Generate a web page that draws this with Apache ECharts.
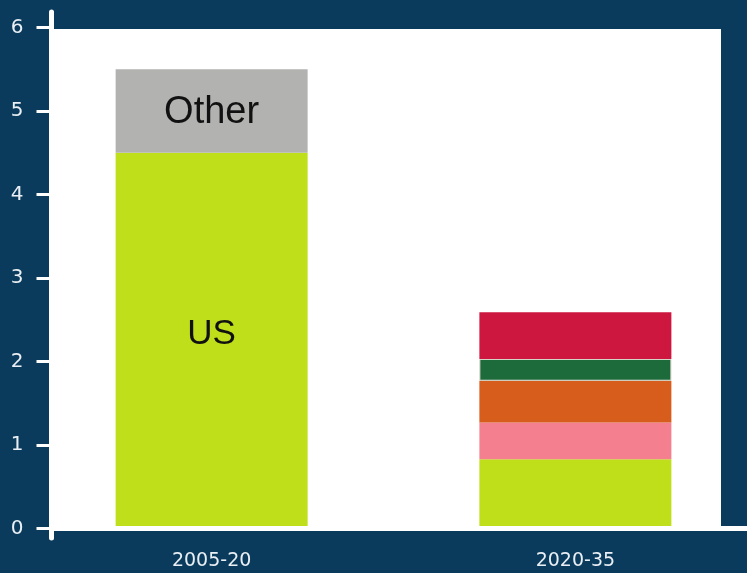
<!DOCTYPE html>
<html>
<head>
<meta charset="utf-8">
<script src="https://cdn.jsdelivr.net/npm/echarts@6/dist/echarts.min.js"></script>
<style>
  html, body { margin: 0; padding: 0; background: #0a3a5c; }
  #main { width: 747px; height: 573px; }
</style>
</head>
<body>
<div id="main"></div>
<script>
// data
const categories = ['2005-20', '2020-35']
const yTicks = [0, 1, 2, 3, 4, 5, 6]
const usValues = [4.5, 0.83]
const otherValues = [1.0, null]
const pinkValues = [null, 0.44]
const orangeValues = [null, 0.5]
const greenValues = [null, 0.26]
const redValues = [null, 0.56]

const labelColor = '#e9eff4'
const chart = echarts.init(document.getElementById('main'))

chart.setOption({
  backgroundColor: '#0a3a5c',
  animation: false,
  grid: [
    // axis lines
    { left: 51.5, top: 12, width: 695.5, height: 526, outerBoundsMode: 'none' },
    // bars
    { left: 29.75, top: 27.5, width: 727.5, height: 501, outerBoundsMode: 'none' },
    // white plot area
    { left: 54, top: 29, width: 667, height: 497, show: true, backgroundColor: '#ffffff', borderWidth: 0, outerBoundsMode: 'none' }
  ],
  xAxis: [
    {
      gridIndex: 0,
      type: 'value',
      min: 0,
      max: 1,
      z: 5,
      axisLine: { show: true, onZero: true, lineStyle: { color: '#ffffff', width: 5 } },
      axisTick: { show: false },
      axisLabel: { show: false },
      splitLine: { show: false }
    },
    {
      gridIndex: 1,
      type: 'category',
      data: categories,
      axisLine: { show: false },
      axisTick: { show: false },
      axisLabel: {
        margin: 23,
        color: labelColor,
        fontSize: 19,
        fontFamily: 'DejaVu Sans'
      }
    },
    {
      gridIndex: 2,
      type: 'value',
      show: false,
      min: 0,
      max: 1
    }
  ],
  yAxis: [
    {
      gridIndex: 0,
      type: 'value',
      min: -0.1138,
      max: 6.1856,
      z: 5,
      axisLine: { show: true, onZero: true, lineStyle: { color: '#ffffff', width: 5 } },
      axisTick: {
        show: true,
        length: 15,
        customValues: yTicks,
        lineStyle: { color: '#ffffff', width: 3 }
      },
      axisLabel: {
        customValues: yTicks,
        margin: 28,
        color: labelColor,
        fontSize: 20,
        fontFamily: 'DejaVu Sans'
      },
      splitLine: { show: false }
    },
    {
      gridIndex: 1,
      type: 'value',
      show: false,
      min: 0,
      max: 6
    },
    {
      gridIndex: 2,
      type: 'value',
      show: false,
      min: 0,
      max: 1
    }
  ],
  series: [
    {
      name: 'US',
      type: 'bar',
      stack: 'total',
      xAxisIndex: 1,
      yAxisIndex: 1,
      barWidth: 192,
      itemStyle: { color: '#bedf1a' },
      data: usValues.map((v, i) => ({
        value: v,
        label: {
          show: i === 0,
          position: 'inside',
          offset: [0, -6],
          formatter: 'US',
          color: '#111111',
          fontSize: 35,
          fontFamily: 'Liberation Sans'
        }
      }))
    },
    {
      name: 'Other',
      type: 'bar',
      stack: 'total',
      xAxisIndex: 1,
      yAxisIndex: 1,
      barWidth: 192,
      itemStyle: { color: '#b2b3b1' },
      label: {
        show: true,
        position: 'inside',
        offset: [0, 2],
        formatter: 'Other',
        color: '#111111',
        fontSize: 38,
        fontFamily: 'Liberation Sans'
      },
      data: otherValues
    },
    {
      name: 'Pink',
      type: 'bar',
      stack: 'total',
      xAxisIndex: 1,
      yAxisIndex: 1,
      barWidth: 192,
      itemStyle: { color: '#f4808f' },
      data: pinkValues
    },
    {
      name: 'Orange',
      type: 'bar',
      stack: 'total',
      xAxisIndex: 1,
      yAxisIndex: 1,
      barWidth: 192,
      itemStyle: { color: '#d65d1c' },
      data: orangeValues
    },
    {
      name: 'Green',
      type: 'bar',
      stack: 'total',
      xAxisIndex: 1,
      yAxisIndex: 1,
      barWidth: 192,
      itemStyle: { color: '#1d6a3a', borderColor: '#d5d5c8', borderWidth: 1 },
      data: greenValues
    },
    {
      name: 'Red',
      type: 'bar',
      stack: 'total',
      xAxisIndex: 1,
      yAxisIndex: 1,
      barWidth: 192,
      itemStyle: { color: '#cd173e' },
      data: redValues
    }
  ]
})
</script>
</body>
</html>
